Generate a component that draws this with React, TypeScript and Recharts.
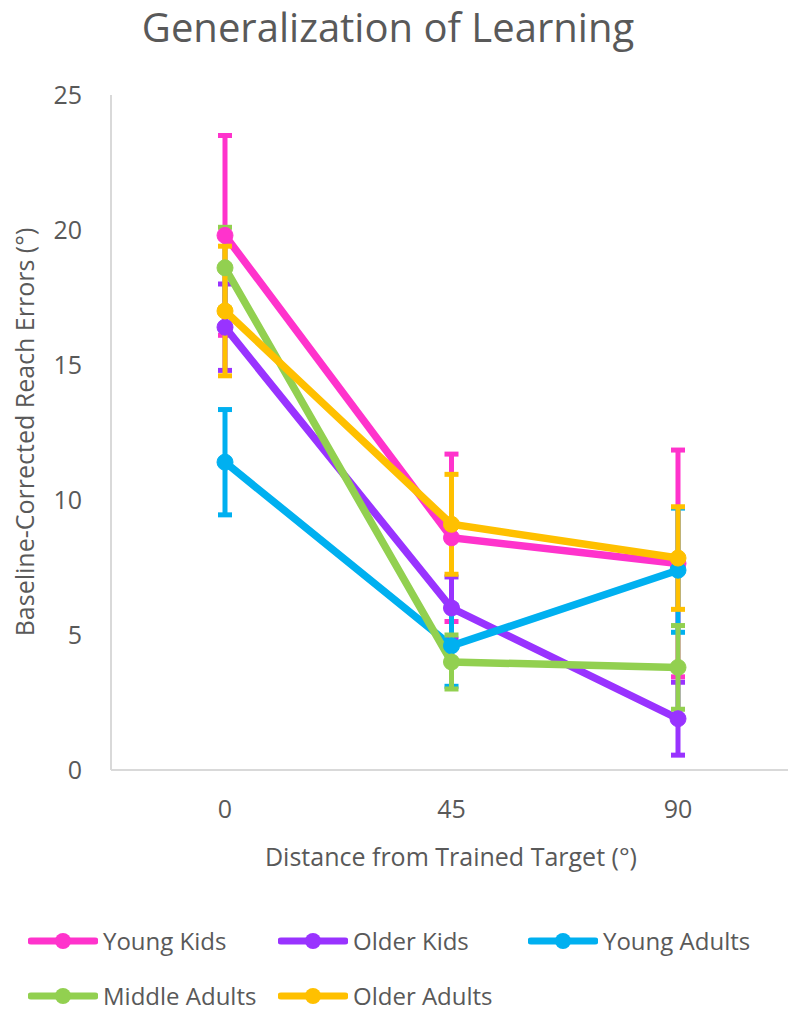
import React from 'react';
import { LineChart, Line, XAxis, YAxis, ErrorBar, Label } from 'recharts';

// Distance from trained target (categories)
const distances = ['0', '45', '90'];

// Mean baseline-corrected reach errors and their error bar half-lengths
const youngKids = [19.8, 8.6, 7.65];
const youngKidsErr = [3.7, 3.1, 4.2];
const olderKids = [16.4, 6.0, 1.9];
const olderKidsErr = [1.6, 1.15, 1.35];
const youngAdults = [11.4, 4.6, 7.4];
const youngAdultsErr = [1.95, 1.5, 2.3];
const middleAdults = [18.6, 4.0, 3.8];
const middleAdultsErr = [1.5, 1.0, 1.55];
const olderAdults = [17.0, 9.1, 7.85];
const olderAdultsErr = [2.4, 1.85, 1.9];

const yTicks = [0, 5, 10, 15, 20, 25];

const FONT = "'Open Sans', sans-serif";
const TEXT = '#595959';
const AXIS = '#d9d9d9';

const series = [
    { key: 'youngKids', name: 'Young Kids', color: '#ff33cc', values: youngKids, errors: youngKidsErr },
    { key: 'olderKids', name: 'Older Kids', color: '#9933ff', values: olderKids, errors: olderKidsErr },
    { key: 'youngAdults', name: 'Young Adults', color: '#00b0f0', values: youngAdults, errors: youngAdultsErr },
    { key: 'middleAdults', name: 'Middle Adults', color: '#92d050', values: middleAdults, errors: middleAdultsErr },
    { key: 'olderAdults', name: 'Older Adults', color: '#ffc000', values: olderAdults, errors: olderAdultsErr },
];

const chartData = distances.map((d, i) => {
    const row: any = { distance: d };
    series.forEach(s => {
        row[s.key] = s.values[i];
        row[s.key + 'Err'] = s.errors[i];
    });
    return row;
});

const App: React.FC = () => {
    return (
        <div style={{ position: 'absolute', left: 0, top: 0, width: 788, height: 1014, background: '#fff', fontFamily: FONT, overflow: 'hidden' }}>
            <div style={{
                position: 'absolute',
                top: 7,
                left: -6,
                width: 788,
                textAlign: 'center',
                fontSize: 40,
                lineHeight: '40px',
                color: TEXT
            }}>
                Generalization of Learning
            </div>

            <LineChart
                width={788}
                height={880}
                data={chartData}
                margin={{ top: 95, right: 0, left: 0, bottom: 0 }}
            >
                <XAxis
                    dataKey="distance"
                    height={110}
                    padding={{ left: 114, right: 110 }}
                    stroke={AXIS}
                    strokeWidth={2}
                    tickLine={false}
                    tickSize={0}
                    tickMargin={30}
                    tick={{ fill: TEXT, fontSize: 25, fontFamily: FONT }}
                >
                    <Label
                        content={() => (
                            <text x={451} y={866} textAnchor="middle" fill={TEXT} fontSize={25} fontFamily={FONT}>
                                Distance from Trained Target (°)
                            </text>
                        )}
                    />
                </XAxis>
                <YAxis
                    width={111}
                    domain={[0, 25]}
                    ticks={yTicks}
                    stroke={AXIS}
                    strokeWidth={2}
                    tickLine={false}
                    tickSize={0}
                    tickMargin={29}
                    tick={{ fill: TEXT, fontSize: 25, fontFamily: FONT }}
                >
                    <Label
                        content={() => (
                            <text
                                x={24}
                                y={432}
                                transform="rotate(-90, 24, 432)"
                                textAnchor="middle"
                                dominantBaseline="central"
                                fill={TEXT}
                                fontSize={25}
                                fontFamily={FONT}
                            >
                                Baseline-Corrected Reach Errors (°)
                            </text>
                        )}
                    />
                </YAxis>
                {series.map(s => (
                    <Line
                        key={s.key}
                        type="linear"
                        dataKey={s.key}
                        name={s.name}
                        stroke={s.color}
                        strokeWidth={7.5}
                        dot={{ r: 8, fill: s.color, stroke: s.color, strokeWidth: 1 }}
                        isAnimationActive={false}
                    >
                        <ErrorBar
                            dataKey={s.key + 'Err'}
                            direction="y"
                            width={7}
                            stroke={s.color}
                            strokeWidth={5}
                        />
                    </Line>
                ))}
            </LineChart>

            {/* Legend, two rows like the original */}
            <div style={{ position: 'absolute', left: 28, top: 927, width: 760, display: 'flex', flexWrap: 'wrap', rowGap: 27 }}>
                {series.map(s => (
                    <div key={s.key} style={{ width: 250, height: 28, display: 'flex', alignItems: 'center', whiteSpace: 'nowrap' }}>
                        <svg width={70} height={20} style={{ flex: 'none' }}>
                            <line x1={3} y1={10} x2={67} y2={10} stroke={s.color} strokeWidth={7} strokeLinecap="round" />
                            <circle cx={35} cy={10} r={8} fill={s.color} />
                        </svg>
                        <span style={{ fontSize: 24, lineHeight: '28px', color: TEXT, marginLeft: 5 }}>{s.name}</span>
                    </div>
                ))}
            </div>
        </div>
    );
};

export default App;
